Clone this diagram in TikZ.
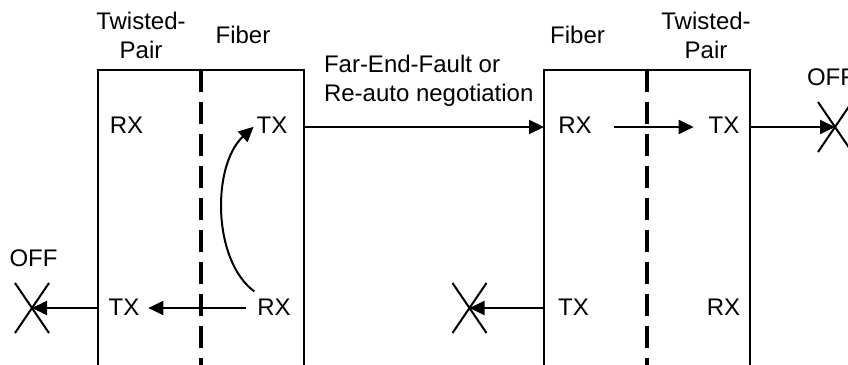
\documentclass[tikz,border=0pt]{standalone}
\usepackage{fontspec}
\setmainfont{Liberation Sans}
\usetikzlibrary{arrows.meta,shapes.misc}
\begin{document}
\begin{tikzpicture}[x=1pt,y=-1pt,
  every node/.style={font=\fontsize{24}{28.5}\selectfont, inner sep=0pt, outer sep=0pt},
  lbl/.style={anchor=base},
  box/.style={draw, line width=2pt, minimum width=206pt, minimum height=330pt, anchor=north west},
  divider/.style={line width=3.2pt, dash pattern=on 22pt off 10pt},
  conn/.style={line width=2pt, -{Triangle[length=15pt,width=14pt]}},
  xmark/.style={cross out, draw, line width=2pt, minimum width=34pt, minimum height=50pt},
]
\clip (0,0) rectangle (848,364);
% boxes
\node[box] (boxL) at (98,70) {};
\node[box] (boxR) at (544,70) {};
\draw[divider] (boxL.north) -- (boxL.south);
\draw[divider] (boxR.north) -- (boxR.south);
% headings
\node[anchor=north, align=center] (tpL) at (141,12.5) {Twisted-\\Pair};
\node[lbl] (fibL) at (243,43) {Fiber};
\node[lbl] (fibR) at (577.5,43) {Fiber};
\node[anchor=north, align=center] (tpR) at (706,12.5) {Twisted-\\Pair};
\node[anchor=north west, align=left] (fault) at (324,55.5) {Far-End-Fault or\\Re-auto negotiation};
% port labels
\node[lbl] (rxL1) at (126.5,133) {RX};
\node[lbl] (txL1) at (272,133) {TX};
\node[lbl] (rxR1) at (575,133) {RX};
\node[lbl] (txR1) at (724,133) {TX};
\node[lbl] (txL2) at (124,315) {TX};
\node[lbl] (rxL2) at (274,315) {RX};
\node[lbl] (txR2) at (573.5,315) {TX};
\node[lbl] (rxR2) at (723.5,315) {RX};
\node[lbl] (offL) at (33.5,266) {OFF};
\node[lbl] (offR) at (831,85) {OFF};
% cross marks
\node[xmark] (xL) at (32,308) {};
\node[xmark] (xR1) at (835,127) {};
\node[xmark] (xR2) at (469.5,308) {};
% row coordinates
\coordinate (r1) at (0,127);
\coordinate (r2) at (0,308);
% connectors
\draw[conn] (boxL.east |- r1) -- (boxR.west |- r1);
\draw[conn, shorten <=22pt, shorten >=15pt] (rxR1.east |- r1) -- (txR1.west |- r1);
\draw[conn] (boxR.east |- r1) -- (xR1.center);
\draw[conn, shorten <=11pt, shorten >=9pt] (rxL2.west |- r2) -- (txL2.east |- r2);
\draw[conn] (boxL.west |- r2) -- (xL.center);
\draw[conn] (boxR.west |- r2) -- (xR2.center);
\draw[conn] ([xshift=-3pt,yshift=7pt]rxL2.north west) .. controls (212,260) and (212,165) .. ([xshift=-3pt,yshift=-2pt]txL1.west);
\end{tikzpicture}
\end{document}
